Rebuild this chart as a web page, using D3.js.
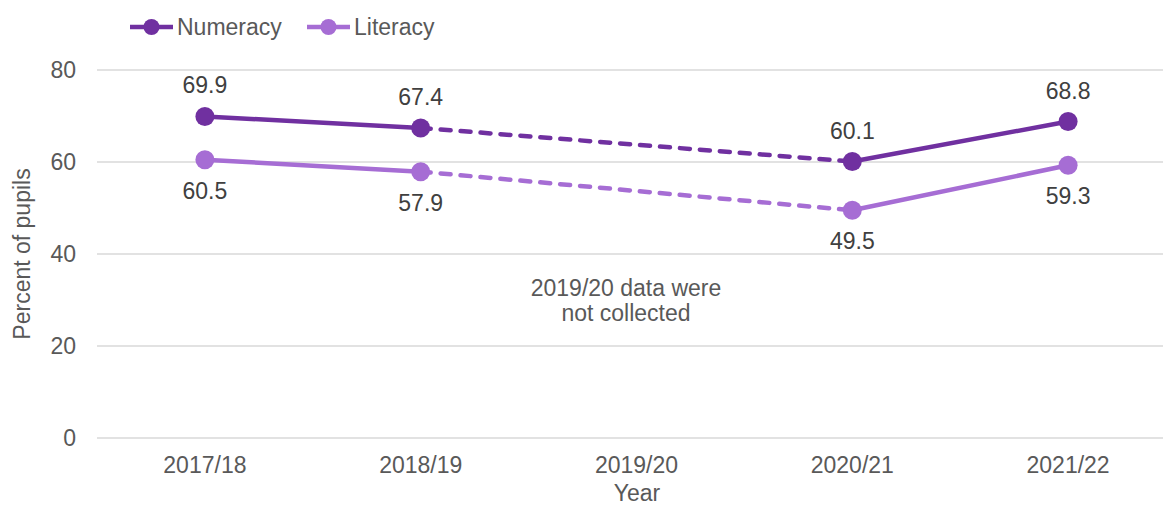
<!DOCTYPE html>
<html><head><meta charset="utf-8">
<script src="https://cdn.jsdelivr.net/npm/d3@7"></script>
<style>body{margin:0;background:#fff}svg{display:block;font-family:"Liberation Sans",Arial,sans-serif}</style>
</head><body><svg id="c" width="1163" height="508"></svg>
<script>
const categories = ["2017/18","2018/19","2019/20","2020/21","2021/22"];
const numeracy = [69.9, 67.4, null, 60.1, 68.8];
const literacy = [60.5, 57.9, null, 49.5, 59.3];
const yTicks = [0,20,40,60,80];
const seriesNames = ["Numeracy","Literacy"];
const colors = ["#7030A0","#A66DD4"];

const svg = d3.select("#c");
const W = 1163;
const x = d3.scaleBand().domain(categories).range([97,1176]);
const cx = c => x(c) + x.bandwidth()/2;
const y = d3.scaleLinear().domain([0,80]).range([438,70]);
const txt = "#595959";

// gridlines
svg.append("g").selectAll("line").data(yTicks).join("line")
  .attr("x1",97).attr("x2",W).attr("y1",d=>y(d)).attr("y2",d=>y(d))
  .attr("stroke","#d9d9d9").attr("stroke-width",1.5);

// y tick labels
svg.append("g").selectAll("text").data(yTicks).join("text")
  .attr("x",76).attr("y",d=>y(d)+8).attr("text-anchor","end")
  .attr("font-size",23).attr("fill",txt).text(d=>d);

// x tick labels
svg.append("g").selectAll("text").data(categories).join("text")
  .attr("x",d=>cx(d)).attr("y",473).attr("text-anchor","middle")
  .attr("font-size",23).attr("fill",txt).text(d=>d);

// axis titles
svg.append("text").attr("x",637).attr("y",501).attr("text-anchor","middle")
  .attr("font-size",23).attr("fill",txt).text("Year");
svg.append("text").attr("transform","translate(30,254) rotate(-90)")
  .attr("text-anchor","middle").attr("font-size",23).attr("fill",txt).text("Percent of pupils");

// annotation
svg.append("text").attr("x",626).attr("y",296).attr("text-anchor","middle")
  .attr("font-size",23).attr("fill",txt).text("2019/20 data were");
svg.append("text").attr("x",626).attr("y",321).attr("text-anchor","middle")
  .attr("font-size",23).attr("fill",txt).text("not collected");

const series = [numeracy, literacy];
series.forEach((vals, si) => {
  const pts = categories.map((c,i)=>({c, v: vals[i]})).filter(d=>d.v!=null);
  const g = svg.append("g");
  const line = d3.line().x(d=>cx(d.c)).y(d=>y(d.v));
  for (let k=0;k<pts.length-1;k++){
    const a = pts[k], b = pts[k+1];
    const gap = categories.indexOf(b.c) - categories.indexOf(a.c) > 1;
    g.append("path").attr("d", line([a,b])).attr("fill","none")
      .attr("stroke",colors[si]).attr("stroke-width",4.5)
      .attr("stroke-linecap","round")
      .attr("stroke-dasharray", gap ? "10,10" : null);
  }
  g.selectAll("circle").data(pts).join("circle")
    .attr("cx",d=>cx(d.c)).attr("cy",d=>y(d.v)).attr("r",9.5).attr("fill",colors[si]);
  g.selectAll("text").data(pts).join("text")
    .attr("x",d=>cx(d.c)).attr("y",d=> si===0 ? y(d.v)-23 : y(d.v)+39)
    .attr("text-anchor","middle").attr("font-size",23).attr("fill","#404040")
    .text(d=>d.v.toFixed(1));
});

// legend
const legX = [130, 307];
seriesNames.forEach((n,i)=>{
  const g = svg.append("g").attr("transform",`translate(${legX[i]},27)`);
  g.append("line").attr("x1",0).attr("x2",43).attr("stroke",colors[i]).attr("stroke-width",4.5);
  g.append("circle").attr("cx",21.5).attr("r",8).attr("fill",colors[i]);
  g.append("text").attr("x",47).attr("y",8).attr("font-size",23).attr("fill",txt).text(n);
});
</script></body></html>
